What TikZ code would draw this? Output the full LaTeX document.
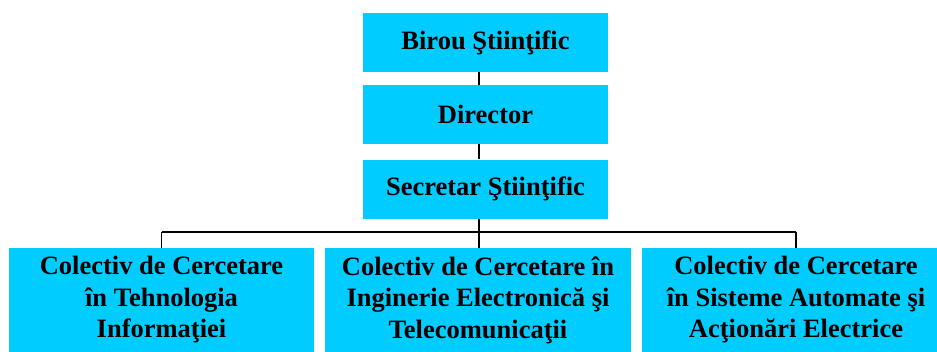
\documentclass[tikz,border=0pt]{standalone}
\usepackage{fontspec}
\setmainfont{Liberation Serif}
\definecolor{boxcyan}{HTML}{00CCFF}
\begin{document}
\begin{tikzpicture}[x=1pt,y=-1pt,
  box/.style={draw=none, fill=boxcyan, inner sep=0pt, align=center,
    font=\fontsize{26.5}{31.5}\selectfont\bfseries},
  topbox/.style={box, minimum width=245pt, minimum height=59pt},
  botbox/.style={box, minimum height=104pt},
  link/.style={draw=black, line width=1.5pt}]
\useasboundingbox (0,0) rectangle (937,351);
\clip (0,0) rectangle (937,351);
\coordinate (trunk) at (479,0);
\coordinate (bus) at (479,232);
\node[topbox] (birou) at (485.5,42.5) {Birou Ştiinţific};
\node[topbox] (director) at (485.5,114.5) {Director};
\node[topbox] (secretar) at (485.5,189) {Secretar Ştiinţific};
\node[botbox, minimum width=305pt] (c1) at (161.5,300) {Colectiv de Cercetare\\în Tehnologia\\Informaţiei};
\node[botbox, minimum width=306pt] (c2) at (478,300) {Colectiv de Cercetare în\\Inginerie Electronică şi\\Telecomunicaţii};
\node[botbox, minimum width=308pt] (c3) at (796,300) {Colectiv de Cercetare\\în Sisteme Automate şi\\Acţionări Electrice};
\draw[link] (birou.south -| trunk) -- (director.north -| trunk);
\draw[link] (director.south -| trunk) -- (secretar.north -| trunk);
\draw[link] (secretar.south -| trunk) -- (bus);
\draw[link] (c1.north |- bus) -- (c3.north |- bus);
\draw[link] (c1.north |- bus) -- (c1.north);
\draw[link] (bus) -- (c2.north -| trunk);
\draw[link] (c3.north |- bus) -- (c3.north);
\end{tikzpicture}
\end{document}
